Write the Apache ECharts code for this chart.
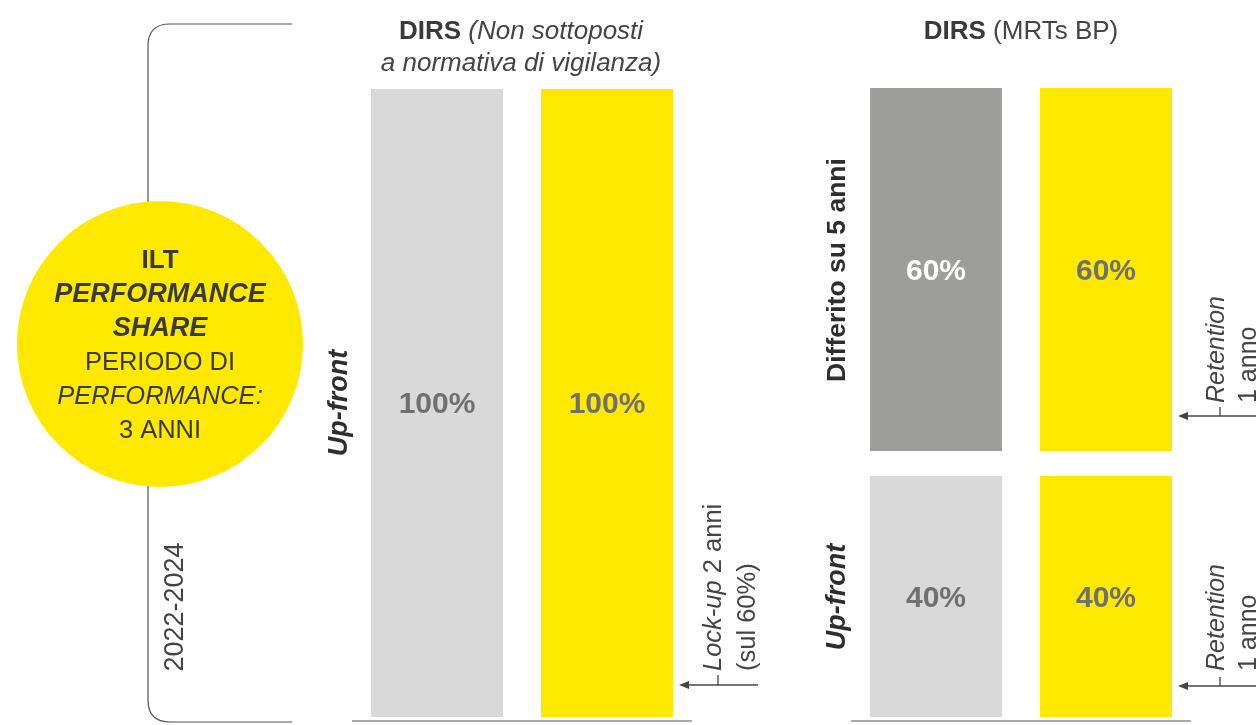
<!DOCTYPE html>
<html>
<head>
<meta charset="utf-8">
<script src="https://cdn.jsdelivr.net/npm/echarts@6/dist/echarts.min.js"></script>
<style>
html,body{margin:0;padding:0;background:#fff;}
#chart{width:1256px;height:725px;}
</style>
</head>
<body>
<div id="chart"></div>
<script>
// ---- data ----
const barCategories = ['Barra grigia', 'Barra gialla'];
const leftValues = [100, 100];           // DIRS (Non sottoposti a normativa di vigilanza) - Up-front
const rightDeferredValues = [60, 60];    // DIRS (MRTs BP) - Differito su 5 anni
const rightUpfrontValues = [40, 40];     // DIRS (MRTs BP) - Up-front
const valueSuffix = '%';

// ---- style ----
const FONT = 'Liberation Sans';
const TXT = '#3a3a3a';
const LBL = '#707070';
const YELLOW = '#ffe900';
const LIGHT = '#d9d9d9';
const DARK = '#9d9d9b';
const LINE = '#555555';

function bars(values, colors, labelColors, xIdx) {
  return {
    type: 'bar',
    xAxisIndex: xIdx, yAxisIndex: xIdx,
    barWidth: 132,
    silent: true,
    data: values.map((v, i) => ({
      value: v,
      itemStyle: { color: colors[i] },
      label: { color: labelColors[i] }
    })),
    label: {
      show: true, position: 'inside',
      fontFamily: FONT, fontWeight: 'bold', fontSize: 30,
      offset: [0, 2],
      formatter: p => p.value + valueSuffix
    }
  };
}

const hiddenY = (max) => ({ type: 'value', min: 0, max: max, show: false });
const catX = (gi) => ({
  type: 'category', gridIndex: gi, data: barCategories,
  axisLine: { show: false }, axisTick: { show: false }, axisLabel: { show: false }
});

const BR = { stroke: '#505050', lineWidth: 1.2, fill: 'none' };
const AR = { stroke: '#444', lineWidth: 1.3 };

const chart = echarts.init(document.getElementById('chart'));
chart.setOption({
  animation: false,
  grid: [
    { left: 352, top: 89, width: 340, height: 628 },
    { left: 851, top: 88, width: 340, height: 363 },
    { left: 851, top: 476, width: 340, height: 241 }
  ],
  xAxis: [catX(0), catX(1), catX(2)],
  yAxis: [
    Object.assign(hiddenY(100), { gridIndex: 0 }),
    Object.assign(hiddenY(60), { gridIndex: 1 }),
    Object.assign(hiddenY(40), { gridIndex: 2 })
  ],
  series: [
    bars(leftValues, [LIGHT, YELLOW], [LBL, LBL], 0),
    bars(rightDeferredValues, [DARK, YELLOW], ['#ffffff', LBL], 1),
    bars(rightUpfrontValues, [LIGHT, YELLOW], [LBL, LBL], 2)
  ],
  graphic: [
    // baselines
    { type: 'line', z: 3, shape: { x1: 352, y1: 721, x2: 692, y2: 721 }, style: { stroke: LINE, lineWidth: 1.2 } },
    { type: 'line', z: 3, shape: { x1: 851, y1: 721, x2: 1191, y2: 721 }, style: { stroke: LINE, lineWidth: 1.2 } },
    // bracket
    { type: 'line', z: 1, shape: { x1: 170, y1: 24, x2: 292, y2: 24 }, style: BR },
    { type: 'bezierCurve', z: 1, shape: { x1: 170, y1: 24, cpx1: 148, cpy1: 24, x2: 148, y2: 46 }, style: BR },
    { type: 'line', z: 1, shape: { x1: 148, y1: 46, x2: 148, y2: 700 }, style: BR },
    { type: 'bezierCurve', z: 1, shape: { x1: 148, y1: 700, cpx1: 148, cpy1: 722, x2: 170, y2: 722 }, style: BR },
    { type: 'line', z: 1, shape: { x1: 170, y1: 722, x2: 292, y2: 722 }, style: BR },
    // circle
    { type: 'circle', z: 2, shape: { cx: 160, cy: 344, r: 143 }, style: { fill: YELLOW } },
    { type: 'text', z: 3, x: 160, y: 346,
      style: {
        text: '{b|ILT}\n{bi|PERFORMANCE}\n{bi|SHARE}\n{r|PERIODO DI}\n{i|PERFORMANCE:}\n{r|3 ANNI}',
        align: 'center', verticalAlign: 'middle', fill: TXT,
        rich: {
          b: { fontFamily: FONT, fontSize: 26, fontWeight: 'bold', lineHeight: 34, fill: TXT, align: 'center' },
          bi: { fontFamily: FONT, fontSize: 27, fontWeight: 'bold', fontStyle: 'italic', lineHeight: 34, fill: TXT, align: 'center' },
          r: { fontFamily: FONT, fontSize: 25.5, lineHeight: 34, fill: TXT, align: 'center' },
          i: { fontFamily: FONT, fontSize: 25.5, fontStyle: 'italic', lineHeight: 34, fill: TXT, align: 'center' }
        }
      } },
    // period
    { type: 'text', z: 3, x: 176, y: 607, rotation: Math.PI / 2,
      style: { text: '2022-2024', fontFamily: FONT, fontSize: 27, fill: '#444', align: 'center', verticalAlign: 'middle' } },
    // headers
    { type: 'text', z: 3, x: 521, y: 32,
      style: { text: '{b|DIRS}{i| (Non sottoposti}', align: 'center', verticalAlign: 'middle',
        rich: { b: { fontFamily: FONT, fontSize: 26, fontWeight: 'bold', fill: TXT },
                i: { fontFamily: FONT, fontSize: 26, fontStyle: 'italic', fill: '#444' } } } },
    { type: 'text', z: 3, x: 521, y: 64,
      style: { text: 'a normativa di vigilanza)', fontFamily: FONT, fontSize: 26, fontStyle: 'italic', fill: '#444', align: 'center', verticalAlign: 'middle' } },
    { type: 'text', z: 3, x: 1021, y: 32,
      style: { text: '{b|DIRS}{r| (MRTs BP)}', align: 'center', verticalAlign: 'middle',
        rich: { b: { fontFamily: FONT, fontSize: 26, fontWeight: 'bold', fill: TXT },
                r: { fontFamily: FONT, fontSize: 26, fill: '#444' } } } },
    // side labels
    { type: 'text', z: 3, x: 340, y: 403, rotation: Math.PI / 2,
      style: { text: 'Up-front', fontFamily: FONT, fontSize: 27, fontWeight: 'bold', fontStyle: 'italic', fill: '#2e2e2e', align: 'center', verticalAlign: 'middle' } },
    { type: 'text', z: 3, x: 838, y: 270, rotation: Math.PI / 2,
      style: { text: 'Differito su 5 anni', fontFamily: FONT, fontSize: 26.5, fontWeight: 'bold', fill: '#2e2e2e', align: 'center', verticalAlign: 'middle' } },
    { type: 'text', z: 3, x: 838, y: 597, rotation: Math.PI / 2,
      style: { text: 'Up-front', fontFamily: FONT, fontSize: 27, fontWeight: 'bold', fontStyle: 'italic', fill: '#2e2e2e', align: 'center', verticalAlign: 'middle' } },
    // Lock-up annotation
    { type: 'text', z: 3, x: 697, y: 671, rotation: Math.PI / 2,
      style: { text: '{i|Lock-up}{r| 2 anni}\n{r|(sul 60%)}', align: 'left', verticalAlign: 'top',
        rich: { i: { fontFamily: FONT, fontSize: 25.5, fontStyle: 'italic', fill: '#444', lineHeight: 34 },
                r: { fontFamily: FONT, fontSize: 25.5, fill: '#444', lineHeight: 34 } } } },
    { type: 'line', z: 3, shape: { x1: 686, y1: 685, x2: 758, y2: 685 }, style: AR },
    { type: 'line', z: 3, shape: { x1: 718, y1: 675, x2: 718, y2: 685 }, style: AR },
    { type: 'polygon', z: 3, shape: { points: [[679, 685], [689, 681], [689, 689]] }, style: { fill: '#444' } },
    // Retention annotations
    { type: 'text', z: 3, x: 1201, y: 403, rotation: Math.PI / 2,
      style: { text: '{i|Retention}\n{r|1 anno}', align: 'left', verticalAlign: 'top',
        rich: { i: { fontFamily: FONT, fontSize: 25, fontStyle: 'italic', fill: '#444', lineHeight: 32 },
                r: { fontFamily: FONT, fontSize: 25, fill: '#444', lineHeight: 32 } } } },
    { type: 'line', z: 3, shape: { x1: 1185, y1: 416, x2: 1260, y2: 416 }, style: AR },
    { type: 'line', z: 3, shape: { x1: 1220, y1: 407, x2: 1220, y2: 416 }, style: AR },
    { type: 'polygon', z: 3, shape: { points: [[1178, 416], [1188, 412], [1188, 420]] }, style: { fill: '#444' } },
    { type: 'text', z: 3, x: 1201, y: 671, rotation: Math.PI / 2,
      style: { text: '{i|Retention}\n{r|1 anno}', align: 'left', verticalAlign: 'top',
        rich: { i: { fontFamily: FONT, fontSize: 25, fontStyle: 'italic', fill: '#444', lineHeight: 32 },
                r: { fontFamily: FONT, fontSize: 25, fill: '#444', lineHeight: 32 } } } },
    { type: 'line', z: 3, shape: { x1: 1185, y1: 686, x2: 1260, y2: 686 }, style: AR },
    { type: 'line', z: 3, shape: { x1: 1220, y1: 677, x2: 1220, y2: 686 }, style: AR },
    { type: 'polygon', z: 3, shape: { points: [[1178, 686], [1188, 682], [1188, 690]] }, style: { fill: '#444' } }
  ]
});
</script>
</body>
</html>
